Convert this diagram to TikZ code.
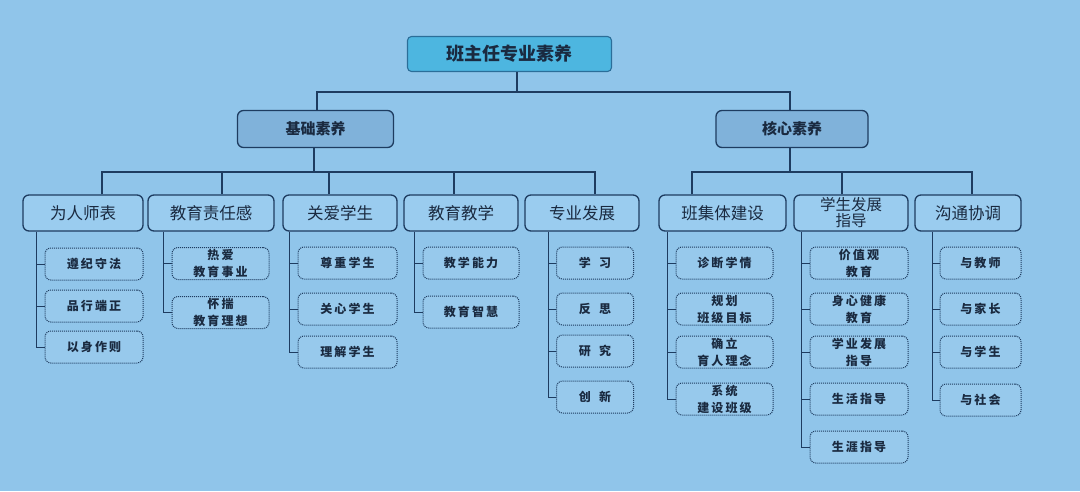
\documentclass[tikz,border=0pt]{standalone}
\usepackage{fontspec}
\newfontfamily\cjk{Noto Sans CJK SC}
\newfontfamily\cjkls[LetterSpace=18]{Noto Sans CJK SC}
\definecolor{bgc}{HTML}{90C5EA}
\definecolor{linec}{HTML}{1E3C60}
\definecolor{rootc}{HTML}{4DB6E0}
\definecolor{rootb}{HTML}{2B6E99}
\definecolor{lvonec}{HTML}{80B2DA}
\definecolor{lvtwoc}{HTML}{9ACCEF}
\definecolor{leafc}{HTML}{97C9EC}
\definecolor{txtc}{HTML}{1A2A40}
\tikzset{
  rootbox/.style={draw=rootb, fill=rootc, line width=1.1pt, rounded corners=4pt,
    font=\cjk\bfseries\fontsize{18}{20}\selectfont, text=txtc, inner sep=0pt},
  lvone/.style={draw=linec, fill=lvonec, line width=1.3pt, rounded corners=6pt,
    font=\cjk\bfseries\fontsize{15}{17}\selectfont, text=txtc, inner sep=0pt,
    minimum height=37pt},
  lvtwo/.style={draw=linec, fill=lvtwoc, line width=1.3pt, rounded corners=6pt,
    font=\cjk\fontsize{16.5}{17}\selectfont, text=txtc, inner sep=0pt,
    minimum height=36pt, align=center},
  leaf/.style={draw=linec, densely dotted, fill=leafc, line width=1pt, rounded corners=6pt,
    font=\cjkls\bfseries\fontsize{12}{15}\selectfont, text=txtc, inner sep=0pt,
    minimum height=32pt, align=center},
  conn/.style={draw=linec, line width=1.3pt},
  thin/.style={draw=linec, line width=1pt},
}
\begin{document}
\begin{tikzpicture}[x=1pt,y=-1pt]
\fill[bgc] (0,0) rectangle (1080,491);
\useasboundingbox (0,0) rectangle (1080,491);

% root and level one
\node[rootbox, minimum width=204pt, minimum height=35pt] (root) at (509.5,54) {班主任专业素养};
\node[lvone, minimum width=156pt] (jc) at (315.5,129) {基础素养};
\node[lvone, minimum width=152pt] (hx) at (792,129) {核心素养};

\coordinate (rj) at (517,92);
\coordinate (rl) at (317,92);
\coordinate (rr) at (790,92);
\draw[conn] (root.south -| rj) -- (rj);
\draw[conn] (jc.north -| rl) -- (rl) -- (rr) -- (hx.north -| rr);

% level two
\node[lvtwo, minimum width=120pt] (a) at (83,213) {为人师表};
\node[lvtwo, minimum width=126pt] (b) at (211,213) {教育责任感};
\node[lvtwo, minimum width=114pt] (c) at (340,213) {关爱学生};
\node[lvtwo, minimum width=114pt] (d) at (461,213) {教育教学};
\node[lvtwo, minimum width=114pt] (e) at (582,213) {专业发展};
\node[lvtwo, minimum width=127pt] (f) at (722.5,213) {班集体建设};
\node[lvtwo, minimum width=114pt, font=\cjk\fontsize{15.5}{16}\selectfont] (g) at (851,213) {学生发展\\指导};
\node[lvtwo, minimum width=106pt] (h) at (968,213) {沟通协调};

\coordinate (ja) at (102,172);
\coordinate (jb) at (222,172);
\coordinate (jcc) at (329,172);
\coordinate (jd) at (454,172);
\coordinate (je) at (595,172);
\coordinate (jm) at (314,172);
\draw[conn] (jc.south -| jm) -- (jm);
\draw[conn] (a.north -| ja) -- (ja) -- (je) -- (e.north -| je);
\draw[conn] (jb) -- (b.north -| jb);
\draw[conn] (jcc) -- (c.north -| jcc);
\draw[conn] (jd) -- (d.north -| jd);

\coordinate (kf) at (692,172);
\coordinate (kg) at (842,172);
\coordinate (kh) at (972,172);
\coordinate (km) at (790,172);
\draw[conn] (hx.south -| km) -- (km);
\draw[conn] (f.north -| kf) -- (kf) -- (kh) -- (h.north -| kh);
\draw[conn] (kg) -- (g.north -| kg);

% leaves
\node[leaf, minimum width=98pt] (a1) at (94,264) {遵纪守法};
\node[leaf, minimum width=98pt] (a2) at (94,306) {品行端正};
\node[leaf, minimum width=98pt] (a3) at (94,347) {以身作则};

\node[leaf, minimum width=97pt] (b1) at (220.5,263.5) {热爱\\[2pt]教育事业};
\node[leaf, minimum width=97pt] (b2) at (220.5,312.5) {怀揣\\[2pt]教育理想};

\node[leaf, minimum width=99pt] (c1) at (347.5,263) {尊重学生};
\node[leaf, minimum width=99pt] (c2) at (347.5,309) {关心学生};
\node[leaf, minimum width=99pt] (c3) at (347.5,352) {理解学生};

\node[leaf, minimum width=96pt] (d1) at (471,263) {教学能力};
\node[leaf, minimum width=96pt] (d2) at (471,312) {教育智慧};

\node[leaf, minimum width=77pt] (e1) at (595,263) {学\hspace{0.7em}习};
\node[leaf, minimum width=77pt] (e2) at (595,309) {反\hspace{0.7em}思};
\node[leaf, minimum width=77pt] (e3) at (595,351) {研\hspace{0.7em}究};
\node[leaf, minimum width=77pt] (e4) at (595,397) {创\hspace{0.7em}新};

\node[leaf, minimum width=97pt] (f1) at (724.5,263) {诊断学情};
\node[leaf, minimum width=97pt] (f2) at (724.5,309) {规划\\[2pt]班级目标};
\node[leaf, minimum width=97pt] (f3) at (724.5,352) {确立\\[2pt]育人理念};
\node[leaf, minimum width=97pt] (f4) at (724.5,399) {系统\\[2pt]建设班级};

\node[leaf, minimum width=98pt] (g1) at (859,263) {价值观\\[2pt]教育};
\node[leaf, minimum width=98pt] (g2) at (859,309) {身心健康\\[2pt]教育};
\node[leaf, minimum width=98pt] (g3) at (859,352) {学业发展\\[2pt]指导};
\node[leaf, minimum width=98pt] (g4) at (859,399) {生活指导};
\node[leaf, minimum width=98pt] (g5) at (859,447) {生涯指导};

\node[leaf, minimum width=81pt] (h1) at (980.5,263) {与教师};
\node[leaf, minimum width=81pt] (h2) at (980.5,309) {与家长};
\node[leaf, minimum width=81pt] (h3) at (980.5,352) {与学生};
\node[leaf, minimum width=81pt] (h4) at (980.5,400) {与社会};

% leaf connectors
\draw[thin] ([xshift=-8pt]a1.west |- a.south) |- (a3.west);
\draw[thin] ([xshift=-8pt]a1.west) -- (a1.west);
\draw[thin] ([xshift=-8pt]a2.west) -- (a2.west);

\draw[thin] ([xshift=-8pt]b1.west |- b.south) |- (b2.west);
\draw[thin] ([xshift=-8pt]b1.west) -- (b1.west);

\draw[thin] ([xshift=-8pt]c1.west |- c.south) |- (c3.west);
\draw[thin] ([xshift=-8pt]c1.west) -- (c1.west);
\draw[thin] ([xshift=-8pt]c2.west) -- (c2.west);

\draw[thin] ([xshift=-8pt]d1.west |- d.south) |- (d2.west);
\draw[thin] ([xshift=-8pt]d1.west) -- (d1.west);

\draw[thin] ([xshift=-8pt]e1.west |- e.south) |- (e4.west);
\draw[thin] ([xshift=-8pt]e1.west) -- (e1.west);
\draw[thin] ([xshift=-8pt]e2.west) -- (e2.west);
\draw[thin] ([xshift=-8pt]e3.west) -- (e3.west);

\draw[thin] ([xshift=-8pt]f1.west |- f.south) |- (f4.west);
\draw[thin] ([xshift=-8pt]f1.west) -- (f1.west);
\draw[thin] ([xshift=-8pt]f2.west) -- (f2.west);
\draw[thin] ([xshift=-8pt]f3.west) -- (f3.west);

\draw[thin] ([xshift=-8pt]g1.west |- g.south) |- (g5.west);
\draw[thin] ([xshift=-8pt]g1.west) -- (g1.west);
\draw[thin] ([xshift=-8pt]g2.west) -- (g2.west);
\draw[thin] ([xshift=-8pt]g3.west) -- (g3.west);
\draw[thin] ([xshift=-8pt]g4.west) -- (g4.west);

\draw[thin] ([xshift=-7pt]h1.west |- h.south) |- (h4.west);
\draw[thin] ([xshift=-7pt]h1.west) -- (h1.west);
\draw[thin] ([xshift=-7pt]h2.west) -- (h2.west);
\draw[thin] ([xshift=-7pt]h3.west) -- (h3.west);
\end{tikzpicture}
\end{document}
